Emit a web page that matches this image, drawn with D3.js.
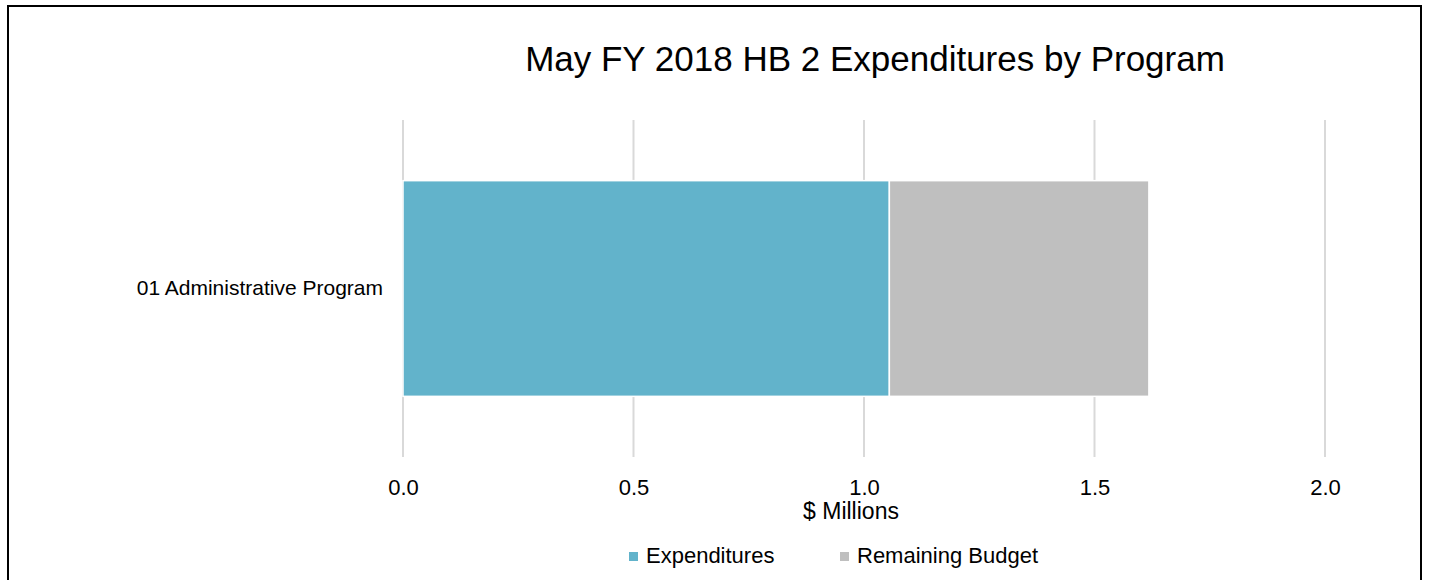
<!DOCTYPE html>
<html>
<head>
<meta charset="utf-8">
<script src="https://cdn.jsdelivr.net/npm/d3@7"></script>
<style>
  body { margin: 0; background: #fff; }
  svg { display: block; font-family: "Liberation Sans", Arial, sans-serif; }
</style>
</head>
<body>
<svg id="chart" width="1429" height="580"></svg>
<script>
// data ($ millions)
var categories = ["01 Administrative Program"];
var seriesNames = ["Expenditures", "Remaining Budget"];
var expenditures = [1.055];
var remaining = [0.563];
var xTicks = [0, 0.5, 1.0, 1.5, 2.0];

var COLORS = ["#62B3CB", "#BFBFBF"];
var FONT = "\"Liberation Sans\", Arial, sans-serif";

var svg = d3.select("#chart");

// outer frame
svg.append("rect")
    .attr("x", 8).attr("y", 6)
    .attr("width", 1413).attr("height", 590)
    .attr("fill", "none")
    .attr("stroke", "#000")
    .attr("stroke-width", 2);

svg.append("text")
    .attr("x", 875).attr("y", 71)
    .attr("text-anchor", "middle")
    .style("font-size", "35px")
    .style("fill", "#000")
    .text("May FY 2018 HB 2 Expenditures by Program");

var x = d3.scaleLinear().domain([0, 2]).range([403, 1325]);
var y = d3.scaleBand().domain(categories).range([120, 457]).paddingInner(0.36).paddingOuter(0.18);

// gridlines
svg.append("g").selectAll("line")
    .data(xTicks)
    .enter().append("line")
    .attr("x1", function(d){ return x(d); })
    .attr("x2", function(d){ return x(d); })
    .attr("y1", 120).attr("y2", 457)
    .attr("stroke", "#D9D9D9")
    .attr("stroke-width", 2);

// stack the two series
var rows = categories.map(function(c, i){
    return { cat: c, "Expenditures": expenditures[i], "Remaining Budget": remaining[i] };
});
var stacked = d3.stack().keys(seriesNames)(rows);

svg.append("g").selectAll("g")
    .data(stacked)
    .enter().append("g")
    .attr("fill", function(d, i){ return COLORS[i]; })
    .selectAll("rect")
    .data(function(d){ return d; })
    .enter().append("rect")
    .attr("x", function(d){ return x(d[0]); })
    .attr("width", function(d){ return x(d[1]) - x(d[0]); })
    .attr("y", function(d){ return y(d.data.cat); })
    .attr("height", y.bandwidth())
    .attr("stroke", "#fff")
    .attr("stroke-width", 1.5);

// x axis labels
var xAxis = d3.axisBottom(x).tickValues(xTicks).tickFormat(d3.format(".1f")).tickSize(0).tickPadding(0);
var gx = svg.append("g").attr("transform", "translate(0,479)").call(xAxis);
gx.select(".domain").remove();
gx.selectAll("text")
    .style("font-size", "22px")
    .style("fill", "#000")
    .style("font-family", FONT);

// category labels
var yAxis = d3.axisLeft(y).tickSize(0).tickPadding(20);
var gy = svg.append("g").attr("transform", "translate(403,0)").call(yAxis);
gy.select(".domain").remove();
gy.selectAll("text")
    .style("font-size", "21px")
    .style("fill", "#000")
    .style("font-family", FONT);

svg.append("text")
    .attr("x", 851).attr("y", 519)
    .attr("text-anchor", "middle")
    .style("font-size", "23px")
    .text("$ Millions");

// legend
var legendX = [629, 840];
var legend = svg.append("g").selectAll("g")
    .data(seriesNames)
    .enter().append("g")
    .attr("transform", function(d, i){ return "translate(" + legendX[i] + ",552)"; });
legend.append("rect")
    .attr("width", 9).attr("height", 9)
    .attr("fill", function(d, i){ return COLORS[i]; });
legend.append("text")
    .attr("x", 17).attr("y", 11)
    .style("font-size", "22px")
    .text(function(d){ return d; });
</script>
</body>
</html>
